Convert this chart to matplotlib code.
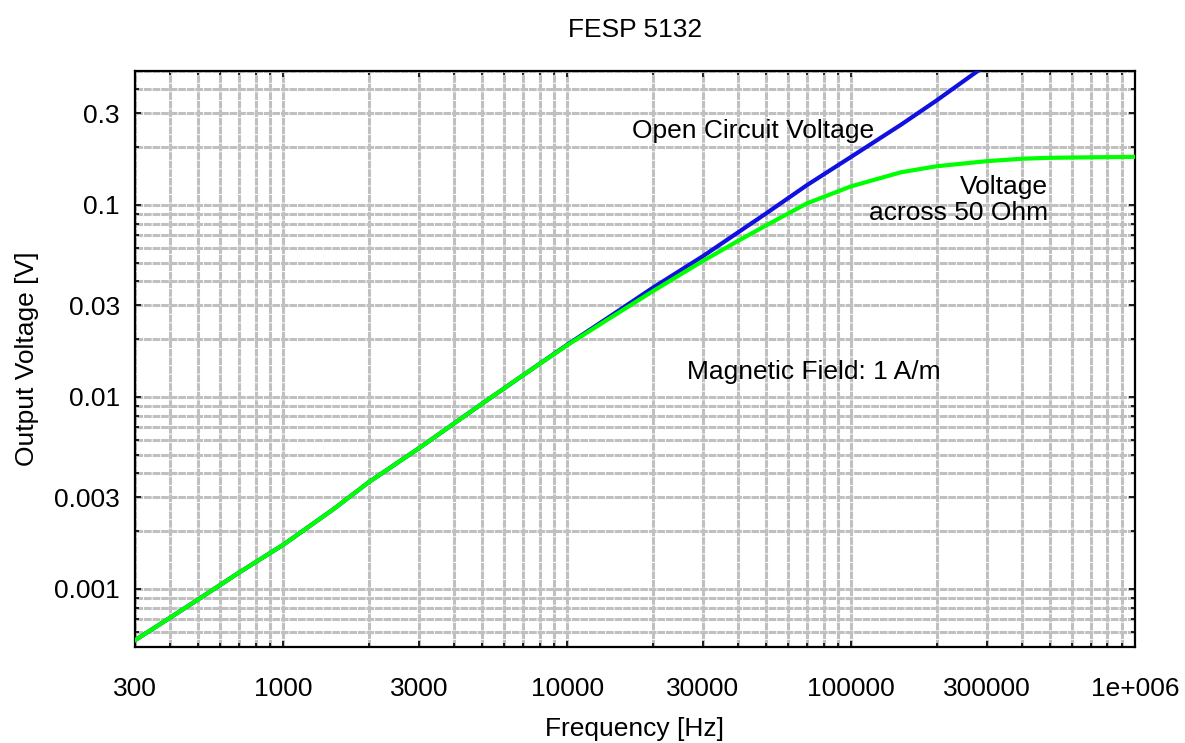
import numpy as np
import matplotlib.pyplot as plt
from matplotlib.ticker import FixedLocator, FixedFormatter, LogLocator, NullFormatter

plt.rcParams['font.family'] = ['Liberation Sans', 'DejaVu Sans']

# valores
freq_open = [300, 400, 500, 700, 1000, 1500, 2000, 3000, 5000, 7000, 10000,
             14000, 20000, 30000, 40000, 50000, 70000, 100000, 150000, 200000,
             280000, 300000]
v_open = [0.00054, 0.00071, 0.00088, 0.00122, 0.0017, 0.0026, 0.0036, 0.0054,
          0.0092, 0.0130, 0.0187, 0.026, 0.037, 0.054, 0.072, 0.090, 0.127,
          0.178, 0.262, 0.35, 0.50, 0.53]

freq_50 = [300, 400, 500, 700, 1000, 1500, 2000, 3000, 5000, 7000, 10000,
           14000, 20000, 30000, 40000, 50000, 70000, 100000, 150000, 200000,
           300000, 400000, 500000, 700000, 1000000]
v_50 = [0.00054, 0.00071, 0.00088, 0.00122, 0.0017, 0.0026, 0.0036, 0.0054,
        0.0092, 0.0130, 0.0186, 0.0255, 0.0355, 0.051, 0.065, 0.078, 0.102,
        0.125, 0.148, 0.159, 0.169, 0.174, 0.176, 0.177, 0.178]

x_ticks = [300, 1000, 3000, 10000, 30000, 100000, 300000, 1000000]
x_labels = ['300', '1000', '3000', '10000', '30000', '100000', '300000', '1e+006']
y_ticks = [0.001, 0.003, 0.01, 0.03, 0.1, 0.3]
y_labels = ['0.001', '0.003', '0.01', '0.03', '0.1', '0.3']

fs = 19

fig = plt.figure(figsize=(11.85, 7.43), dpi=100)
ax = fig.add_axes([0.1139, 0.1296, 0.8439, 0.7752])

ax.set_xscale('log')
ax.set_yscale('log')

ax.plot(freq_open, v_open, color='#1010e0', lw=3, zorder=3)
ax.plot(freq_50, v_50, color='#00ff00', lw=3, zorder=4)

ax.set_xlim(300, 1e6)
ax.set_ylim(0.0005, 0.5)

ax.xaxis.set_major_locator(FixedLocator(x_ticks))
ax.xaxis.set_major_formatter(FixedFormatter(x_labels))
ax.yaxis.set_major_locator(FixedLocator(y_ticks))
ax.yaxis.set_major_formatter(FixedFormatter(y_labels))
ax.xaxis.set_minor_locator(LogLocator(base=10, subs=np.arange(1, 10), numticks=20))
ax.yaxis.set_minor_locator(LogLocator(base=10, subs=np.arange(1, 10), numticks=20))
ax.xaxis.set_minor_formatter(NullFormatter())
ax.yaxis.set_minor_formatter(NullFormatter())

ax.grid(True, which='both', color='#c0c0c0', lw=2.2, linestyle=(0, (2.5, 0.3)), zorder=1)
ax.set_axisbelow(True)

ax.tick_params(which='both', direction='in', top=True, right=True,
               labelsize=fs, width=1.2, color='black')
ax.tick_params(axis='x', pad=22)
ax.tick_params(axis='y', pad=11)
ax.tick_params(which='major', length=4)
ax.tick_params(which='minor', length=3)
for s in ax.spines.values():
    s.set_linewidth(1.6)

ax.set_xlabel('Frequency [Hz]', fontsize=fs, labelpad=11)
ax.set_ylabel('Output Voltage [V]', fontsize=fs, labelpad=11)
ax.set_title('FESP 5132', fontsize=fs, pad=24)

ax.text(45100, 0.243, 'Open Circuit Voltage', fontsize=fs, ha='center', va='center')
ax.text(493000, 0.106, 'Voltage\nacross 50 Ohm', fontsize=fs, ha='right', va='center',
        multialignment='right', linespacing=1.1)
ax.text(73600, 0.0135, 'Magnetic Field: 1 A/m', fontsize=fs, ha='center', va='center')

plt.savefig('out.png', dpi=100)
